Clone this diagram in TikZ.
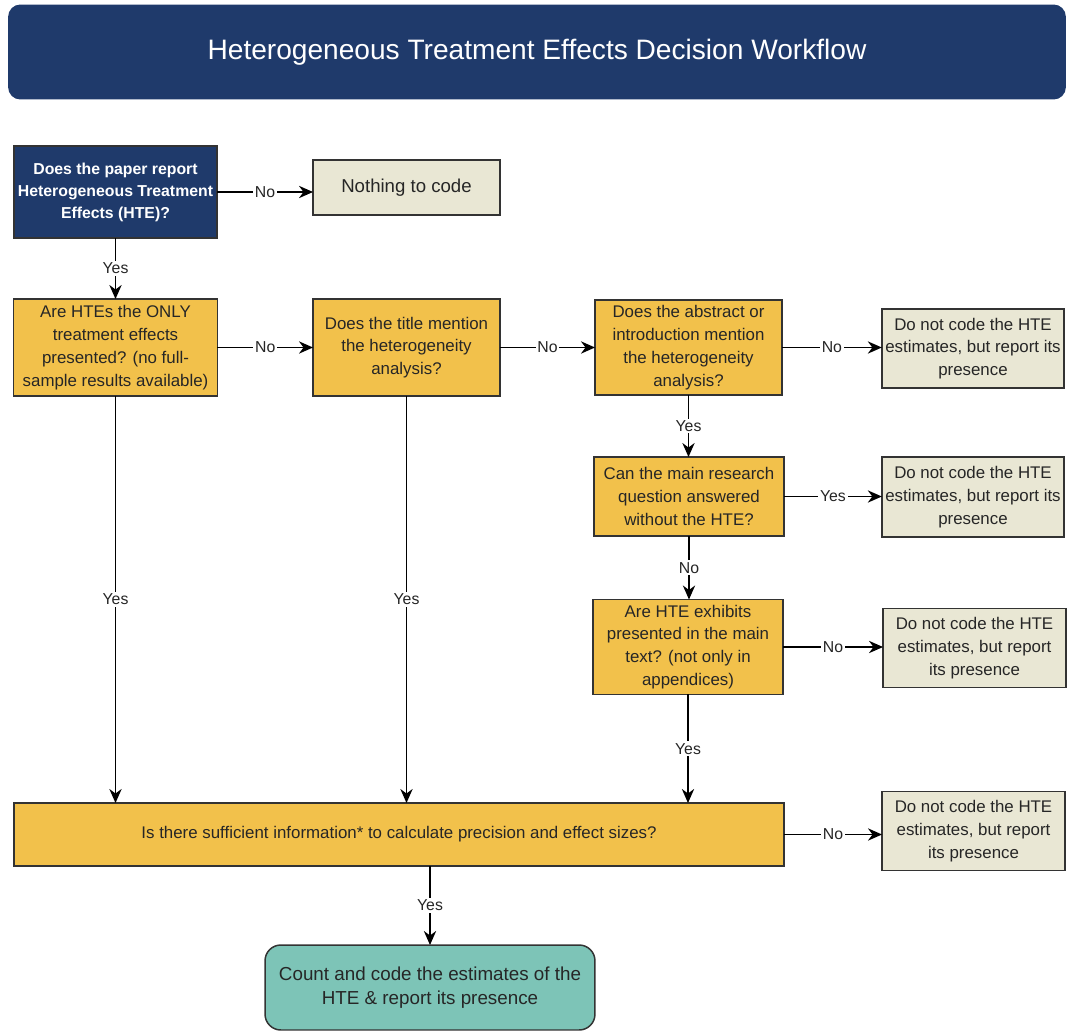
\documentclass[tikz,border=0pt]{standalone}
\usepackage{fontspec}
\setmainfont{Liberation Sans}
\usetikzlibrary{arrows.meta}
\definecolor{navyblue}{HTML}{1F3A6B}
\definecolor{qgold}{HTML}{F2C14B}
\definecolor{rsand}{HTML}{E9E7D4}
\definecolor{fteal}{HTML}{7DC4B7}
\begin{document}
\begin{tikzpicture}[x=0.02cm,y=-0.02cm,inner sep=2pt,outer sep=0pt,line width=0.85pt,
>={Stealth[length=8pt,width=7pt]},
qbox/.style={draw=black!80,fill=qgold,rectangle,align=center,text=black!85,font=\fontsize{9.6}{13}\selectfont},
rbox/.style={draw=black!80,fill=rsand,rectangle,align=center,text=black!85,font=\fontsize{9.6}{13}\selectfont},
lbl/.style={fill=white,inner sep=1pt,text=black!85,font=\fontsize{9}{10}\selectfont}]
\useasboundingbox (0,0) rectangle (1069,1034);
% header
\draw (537,52) node[fill=navyblue,rounded corners=7pt,minimum width=21.16cm,minimum height=1.9cm,text=white,font=\fontsize{16}{18}\selectfont] (title) {Heterogeneous Treatment Effects Decision Workflow};
% decisions
\draw (115.5,192) node[draw=black!80,fill=navyblue,align=center,text=white,minimum width=4.06cm,minimum height=1.84cm,font=\bfseries\fontsize{9}{12.5}\selectfont] (q1) {Does the paper report\\Heterogeneous Treatment\\Effects (HTE)?};
\draw (406.5,187.5) node[rbox,minimum width=3.74cm,minimum height=1.1cm,font=\fontsize{10.6}{13}\selectfont] (none) {Nothing to code};
\draw (115.5,347.5) node[qbox,minimum width=4.08cm,minimum height=1.94cm] (q2) {Are HTEs the ONLY\\treatment effects\\presented? (no full-\\sample results available)};
\draw (406.5,347.5) node[qbox,minimum width=3.74cm,minimum height=1.94cm] (q3) {Does the title mention\\the heterogeneity\\analysis?};
\draw (688.5,347.5) node[qbox,minimum width=3.74cm,minimum height=1.9cm] (q4) {Does the abstract or\\introduction mention\\the heterogeneity\\analysis?};
\draw (973,348.5) node[rbox,minimum width=3.64cm,minimum height=1.58cm] (r1) {Do not code the HTE\\estimates, but report its\\presence};
\draw (689,496.5) node[qbox,minimum width=3.8cm,minimum height=1.58cm] (q5) {Can the main research\\question answered\\without the HTE?};
\draw (973,497) node[rbox,minimum width=3.64cm,minimum height=1.6cm] (r2) {Do not code the HTE\\estimates, but report its\\presence};
\draw (688,647) node[qbox,minimum width=3.8cm,minimum height=1.9cm] (q6) {Are HTE exhibits\\presented in the main\\text? (not only in\\appendices)};
\draw (974.5,648) node[rbox,minimum width=3.66cm,minimum height=1.58cm] (r3) {Do not code the HTE\\estimates, but report\\its presence};
\draw (399,834.5) node[qbox,minimum width=15.4cm,minimum height=1.26cm] (q7) {Is there sufficient information* to calculate precision and effect sizes?};
\draw (973.5,831) node[rbox,minimum width=3.66cm,minimum height=1.58cm] (r4) {Do not code the HTE\\estimates, but report\\its presence};
\draw (430,987.5) node[draw=black!80,fill=fteal,rounded corners=9pt,align=center,text=black!85,minimum width=6.6cm,minimum height=1.7cm,font=\fontsize{10.7}{14}\selectfont] (fin) {Count and code the estimates of the\\HTE \& report its presence};
% connectors
\draw[->] (q1.east) -- (none.west |- q1.east) node[lbl,midway] {No};
\draw[->] (q1.south) -- (q2.north) node[lbl,midway] {Yes};
\draw[->] (q2.east) -- (q3.west) node[lbl,midway] {No};
\draw[->] (q3.east) -- (q4.west) node[lbl,midway] {No};
\draw[->] (q4.east) -- (r1.west |- q4.east) node[lbl,midway] {No};
\draw[->] (q4.south) -- (q5.north -| q4.south) node[lbl,midway] {Yes};
\draw[->] (q5.east) -- (r2.west |- q5.east) node[lbl,midway] {Yes};
\draw[->] (q5.south) -- (q6.north -| q5.south) node[lbl,midway] {No};
\draw[->] (q6.east) -- (r3.west |- q6.east) node[lbl,midway] {No};
\draw[->] (q2.south) -- (q2.south |- q7.north) node[lbl,midway] {Yes};
\draw[->] (q3.south) -- (q3.south |- q7.north) node[lbl,midway] {Yes};
\draw[->] (q6.south) -- (q6.south |- q7.north) node[lbl,midway] {Yes};
\draw[->] (q7.east) -- (r4.west |- q7.east) node[lbl,midway] {No};
\draw[->] (q7.south -| fin.north) -- (fin.north) node[lbl,midway] {Yes};
\end{tikzpicture}
\end{document}
